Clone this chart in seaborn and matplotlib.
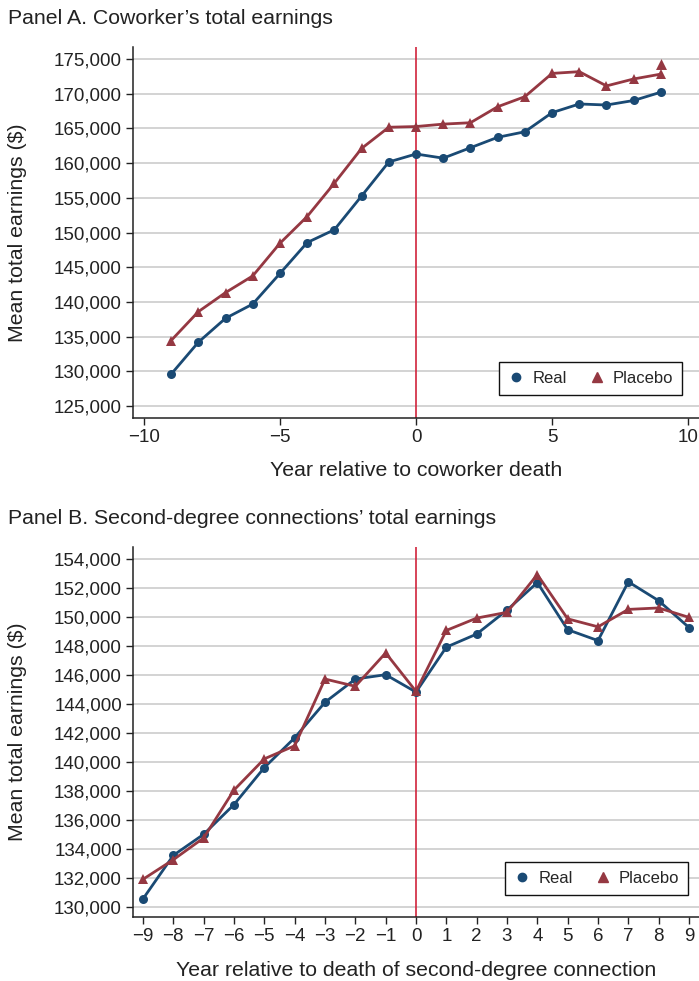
import matplotlib
matplotlib.use("Agg")
import matplotlib.pyplot as plt
from matplotlib.lines import Line2D
import seaborn as sns
import pandas as pd

# ---------------- Data ----------------
years_a = list(range(-9, 10))
real_a = [129600, 134200, 137650, 139700, 144100, 148550, 150400, 155250, 160150,
          161300, 160700, 162200, 163700, 164500, 167250, 168500, 168350, 169000, 170200]
placebo_a = [134450, 138600, 141350, 143750, 148450, 152300, 157100, 162100, 165150,
             165250, 165600, 165800, 168100, 169550, 172900, 173150, 171100, 172100, 172800]
placebo_a_extra_year = [9]
placebo_a_extra = [174250]

years_b = list(range(-9, 10))
real_b = [130550, 133550, 135000, 137050, 139600, 141650, 144100, 145700, 146000,
          144800, 147900, 148800, 150450, 152350, 149100, 148350, 152400, 151100, 149250]
placebo_b = [131900, 133250, 134750, 138050, 140200, 141100, 145700, 145200, 147500,
             144850, 149050, 149900, 150300, 152900, 149850, 149300, 150500, 150600, 149950]

ticks_a_y = list(range(125000, 175001, 5000))
ticks_a_x = [-10, -5, 0, 5, 10]
ticks_b_y = list(range(130000, 154001, 2000))
ticks_b_x = list(range(-9, 10))

title_a = "Panel A. Coworker\u2019s total earnings"
title_b = "Panel B. Second-degree connections\u2019 total earnings"
xlabel_a = "Year relative to coworker death"
xlabel_b = "Year relative to death of second-degree connection"
ylabel = "Mean total earnings ($)"

# ---------------- Style ----------------
sns.set_theme(style="white")
plt.rcParams['font.family'] = ['Liberation Sans', 'DejaVu Sans']
plt.rcParams['axes.unicode_minus'] = True

REAL_C = "#1a4a74"
PLAC_C = "#953842"
VLINE_C = "#d1243c"
GRID_C = "#d3d3d3"
TXT_C = "#222222"
FS_TICK = 13.5
FS_LAB = 15.3

fig = plt.figure(figsize=(6.99, 9.81), dpi=100)
W, H = 699, 981
axA = fig.add_axes([133 / W, 1 - 418 / H, (699 - 133) / W, (418 - 47) / H])
axB = fig.add_axes([133 / W, 1 - 917 / H, (699 - 133) / W, (917 - 547) / H])


def style_axis(ax, yticks, xticks, ylim, xlim, xlabel, hpx):
    ax.set_ylim(*ylim)
    ax.set_xlim(*xlim)
    ax.set_yticks(yticks)
    ax.set_yticklabels([f"{v:,}" for v in yticks])
    ax.set_xticks(xticks)
    ax.set_xticklabels([str(v).replace("-", "\u2212") for v in xticks])
    ax.yaxis.grid(True, color=GRID_C, linewidth=1.4)
    ax.xaxis.grid(False)
    ax.set_axisbelow(True)
    for s in ["top", "right"]:
        ax.spines[s].set_visible(False)
    for s in ["left", "bottom"]:
        ax.spines[s].set_color(TXT_C)
        ax.spines[s].set_linewidth(1.1)
    ax.tick_params(axis="both", which="both", direction="out", length=5, width=1.0,
                   color=TXT_C, labelsize=FS_TICK, labelcolor=TXT_C,
                   left=True, bottom=True, pad=3)
    ax.set_xlabel(xlabel, fontsize=FS_LAB, color=TXT_C)
    ax.set_ylabel(ylabel, fontsize=FS_LAB, color=TXT_C)
    ax.xaxis.set_label_coords(0.5, -53 / hpx)
    ax.yaxis.set_label_coords((18 - 133) / 566, 0.5)
    ax.xaxis.label.set_va("center")
    ax.yaxis.label.set_va("center")


def draw(ax, years, real, plac):
    ax.axvline(0, color=VLINE_C, linewidth=1.2, zorder=1)
    df = pd.DataFrame({"year": years, "Real": real, "Placebo": plac})
    sns.lineplot(data=df, x="year", y="Real", ax=ax, color=REAL_C, marker="o",
                 markersize=6.5, markeredgewidth=0, linewidth=2.0, label="Real", zorder=3)
    sns.lineplot(data=df, x="year", y="Placebo", ax=ax, color=PLAC_C, marker="^",
                 markersize=7.5, markeredgewidth=0, linewidth=2.0, label="Placebo", zorder=3)


def legend(ax, loc_anchor):
    hh = [Line2D([], [], color=REAL_C, marker="o", linestyle="none", markersize=6),
          Line2D([], [], color=PLAC_C, marker="^", linestyle="none", markersize=7)]
    leg = ax.legend(hh, ["Real", "Placebo"], ncol=2, loc="lower right",
                    bbox_to_anchor=loc_anchor, fontsize=12, frameon=True,
                    fancybox=False, edgecolor="#111111", framealpha=1,
                    handletextpad=0.45, columnspacing=1.3, borderpad=0.55,
                    handlelength=1.0, borderaxespad=0)
    leg.get_frame().set_linewidth(1.0)


# Panel A
draw(axA, years_a, real_a, placebo_a)
sns.scatterplot(x=placebo_a_extra_year, y=placebo_a_extra, ax=axA, color=PLAC_C,
                marker="^", s=62, linewidth=0, zorder=3, legend=False)
style_axis(axA, ticks_a_y, ticks_a_x, (123300, 176700), (-10.4, 10.4), xlabel_a, 371)
legend(axA, ((682 - 133) / 566, (418 - 395) / 371))

# Panel B
draw(axB, years_b, real_b, placebo_b)
style_axis(axB, ticks_b_y, ticks_b_x, (129300, 154800), (-9.33, 9.33), xlabel_b, 370)
legend(axB, ((688 - 133) / 566, (917 - 895) / 370))

fig.text(8 / W, 1 - 18 / H, title_a, fontsize=FS_LAB, color=TXT_C, va="center", ha="left")
fig.text(8 / W, 1 - 519 / H, title_b, fontsize=FS_LAB, color=TXT_C, va="center", ha="left")

fig.savefig("out.png", dpi=100)
